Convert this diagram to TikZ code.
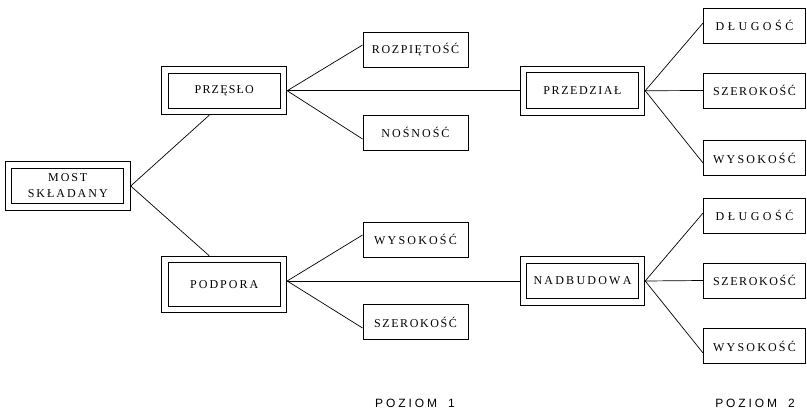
\documentclass[tikz,border=0pt]{standalone}
\usepackage{fontspec}
\setmainfont{Liberation Serif}
\newfontfamily\levfont{Liberation Sans}
% letter-spaced caps: \ls{gap}{WORD} puts a kern between successive letters
\newcommand\ls[2]{\def\lsgap{#1}\lsloop#2\relax}
\def\lsloop#1#2{#1\ifx\relax#2\else\kern\lsgap\expandafter\lsloop\expandafter#2\fi}
\begin{document}
\begin{tikzpicture}[x=1pt,y=-1pt,
  every node/.style={inner sep=0pt},
  lab/.style={font=\fontsize{12}{16}\selectfont},
  frame/.style={line width=0.9pt},
  single/.style={lab, draw, frame, minimum width=105pt,
    minimum height=35pt, outer sep=0.45pt},
  rightbox/.style={single, minimum width=102pt},
  dbl/.style={lab, draw, frame, minimum width=125pt,
    minimum height=48.5pt, outer sep=0.45pt},
  link/.style={line width=0.7pt},
  level/.style={font=\levfont\fontsize{12}{14}\selectfont}]
\useasboundingbox (0,0) rectangle (807,412);

% level 0 and level 1 (outer frames)
\node[dbl, align=center] (most) at (67.75,186) {\ls{1.9pt}{MOST}\\\ls{2pt}{SKŁADANY}};
\node[dbl, minimum height=48pt] (przeslo) at (224.25,90.75) {\ls{1.2pt}{PRZĘSŁO}};
\node[dbl, minimum height=56.5pt] (podpora) at (224.25,284.5) {\ls{2pt}{PODPORA}};
\node[dbl, minimum width=124.5pt, minimum height=49pt] (przedzial) at (582.5,90.75) {\ls{1.6pt}{PRZEDZIAŁ}};
\node[dbl, minimum width=124.5pt] (nadbudowa) at (582.5,281) {\ls{2.25pt}{NADBUDOWA}};

% inner frames of the double boxes
\foreach \n in {most,przeslo,podpora,przedzial,nadbudowa}
  \draw[frame] ([xshift=7pt,yshift=-7pt]\n.north west) rectangle
               ([xshift=-7pt,yshift=7pt]\n.south east);

% parameters of level 1
\node[single] (rozp) at (415.5,49.5) {\ls{1.6pt}{ROZPIĘTOŚĆ}};
\node[single] (nosn) at (415.5,132.5) {\ls{2pt}{NOŚNOŚĆ}};
\node[single] (wys1) at (415.5,239.5) {\ls{2.2pt}{WYSOKOŚĆ}};
\node[single] (szer1) at (415.5,322) {\ls{1.6pt}{SZEROKOŚĆ}};

% parameters of level 2
\node[rightbox] (dl2) at (754.5,25.5) {\ls{3.5pt}{DŁUGOŚĆ}};
\node[rightbox] (sz2) at (754.5,90.5) {\ls{1.6pt}{SZEROKOŚĆ}};
\node[rightbox] (wy2) at (754.5,158) {\ls{2.2pt}{WYSOKOŚĆ}};
\node[rightbox] (dl3) at (754.5,215.5) {\ls{3.5pt}{DŁUGOŚĆ}};
\node[rightbox] (sz3) at (754.5,280.5) {\ls{1.6pt}{SZEROKOŚĆ}};
\node[rightbox] (wy3) at (754.5,346) {\ls{2.2pt}{WYSOKOŚĆ}};

% connectors
\draw[link] (most.east) -- ([xshift=-15pt]przeslo.south);
\draw[link] (most.east) -- ([xshift=-15pt]podpora.north);

\draw[link] (przeslo.east) -- ([yshift=4.5pt]rozp.west);
\draw[link] (przeslo.east) -- ([yshift=-6.5pt]nosn.west);
\draw[link] (przeslo.east) -- (przedzial.west);

\draw[link] (przedzial.east) -- ([yshift=2.5pt]dl2.west);
\draw[link] (przedzial.east) -- (sz2.west);
\draw[link] (przedzial.east) -- ([yshift=-5pt]wy2.west);

\coordinate (pp) at ([yshift=3.5pt]podpora.east);
\draw[link] (pp) -- ([yshift=4.5pt]wys1.west);
\draw[link] (pp) -- ([yshift=-6pt]szer1.west);
\draw[link] (pp) -- (nadbudowa.west);

\draw[link] (nadbudowa.east) -- ([yshift=2.5pt]dl3.west);
\draw[link] (nadbudowa.east) -- (sz3.west);
\draw[link] (nadbudowa.east) -- ([yshift=-7pt]wy3.west);

% level captions
\node[level] (lev1) at (415,403) {\ls{2.9pt}{POZIOM}\kern11pt 1};
\node[level] (lev2) at (755,403) {\ls{2.9pt}{POZIOM}\kern11pt 2};
\end{tikzpicture}
\end{document}
